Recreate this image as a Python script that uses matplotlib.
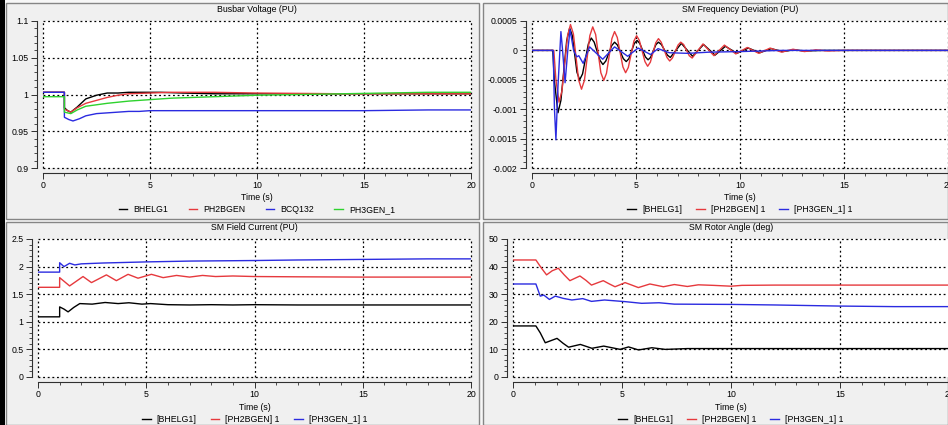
import matplotlib.pyplot as plt
from matplotlib.patches import Rectangle
from matplotlib.ticker import MultipleLocator, FormatStrFormatter

plt.rcParams['font.family'] = ['Liberation Sans', 'DejaVu Sans']
FS = 6.3

BLACK = '#000000'
RED = '#e6393d'
BLUE = '#2b2be0'
GREEN = '#2ed22e'

# ---- Busbar Voltage (PU)
t_v_bhelg1 = [0, 1.0, 1.0, 1.15, 1.3, 1.6, 2.0, 2.5, 3.0, 3.5, 4.0, 5.0, 5.5, 6.5, 8, 10, 14, 20]
v_bhelg1 = [1.003, 1.003, 0.982, 0.978, 0.976, 0.983, 0.994, 0.999, 1.002, 1.002, 1.003,
            1.003, 1.003, 1.002, 1.001, 1.001, 1.001, 1.001]
t_v_ph2bgen = [0, 1.0, 1.0, 1.3, 1.6, 2.0, 2.5, 3.0, 3.5, 4.0, 5.0, 6.0, 8.0, 10, 14, 20]
v_ph2bgen = [1.003, 1.003, 0.980, 0.976, 0.982, 0.988, 0.992, 0.996, 0.999, 1.001, 1.002,
             1.003, 1.003, 1.002, 1.001, 1.001]
t_v_bcq132 = [0, 1.0, 1.0, 1.2, 1.4, 1.7, 2.0, 2.5, 3.0, 3.5, 4.0, 4.5, 5.0, 6.0, 8, 10, 15, 18, 20]
v_bcq132 = [1.003, 1.003, 0.969, 0.966, 0.964, 0.967, 0.971, 0.974, 0.975, 0.976, 0.977,
            0.977, 0.978, 0.978, 0.978, 0.978, 0.978, 0.979, 0.979]
t_v_ph3gen = [0, 1.0, 1.0, 1.3, 1.6, 2.0, 2.5, 3.0, 4.0, 5.0, 6.0, 7.0, 8.0, 10, 12, 14, 16, 18, 20]
v_ph3gen = [0.997, 0.997, 0.976, 0.974, 0.979, 0.984, 0.986, 0.988, 0.991, 0.993, 0.995,
            0.996, 0.997, 0.999, 1.000, 1.001, 1.002, 1.003, 1.003]

# ---- SM Frequency Deviation (PU)
t_f_bhelg1 = [0, 1.0, 1.07, 1.25, 1.39, 1.67, 1.81, 1.94, 2.16, 2.29, 2.43, 2.71, 2.85,
              2.99, 3.27, 3.41, 3.55, 3.83, 3.97, 4.11, 4.39, 4.53, 4.66, 4.92, 5.05, 5.18,
              5.45, 5.58, 5.7, 5.96, 6.08, 6.22, 6.51, 6.65, 7.18, 7.72, 8.25, 8.8, 9.3,
              9.85, 10.4, 10.95, 11.5, 12.05, 12.6, 13.1, 14, 20]
f_bhelg1 = [0, 0, -0.0005, -0.00106, -0.00085, 0.00017, 0.00038, 0.00025, -0.00037,
            -0.0005, -0.0004, 0.00011, 0.00021, 0.00014, -0.00017, -0.00024, -0.00018,
            0.00008, 0.00014, 0.00009, -0.00014, -0.00019, -0.00014, 0.00012, 0.00017,
            0.00012, -0.00011, -0.00016, -0.00012, 0.0001, 0.00014, 0.0001, -0.00008,
            -0.00012, 0.00012, -0.0001, 0.0001, -0.00008, 0.00007, -0.00005, 0.00004,
            -0.00004, 0.00003, -0.00002, 0.00001, -0.00001, 0, 0]
t_f_ph2bgen = [0, 1.05, 1.15, 1.3, 1.44, 1.71, 1.85, 1.99, 2.24, 2.38, 2.52, 2.78, 2.92,
               3.06, 3.31, 3.45, 3.58, 3.84, 3.97, 4.1, 4.37, 4.5, 4.63, 4.9, 5.03, 5.16,
               5.43, 5.56, 5.69, 5.95, 6.08, 6.21, 6.49, 6.62, 6.75, 7.02, 7.15, 7.29,
               7.56, 7.7, 8.22, 8.75, 9.25, 9.8, 10.35, 10.9, 11.45, 12.0, 12.55, 13.1,
               13.65, 14.2, 15, 20]
f_ph2bgen = [0, 0, -0.0005, -0.00088, -0.00069, 0.00025, 0.00044, 0.00028, -0.0005,
             -0.00066, -0.00051, 0.00025, 0.0004, 0.00027, -0.00038, -0.00051, -0.00039,
             0.0002, 0.00032, 0.00022, -0.00028, -0.00038, -0.00029, 0.00016, 0.00025,
             0.00017, -0.00019, -0.00027, -0.0002, 0.00013, 0.0002, 0.00014, -0.00012,
             -0.00018, -0.00013, 0.00009, 0.00014, 0.0001, -0.00009, -0.00013, 0.00011,
             -0.00009, 0.00009, -0.00006, 0.00005, -0.00005, 0.00004, -0.00003, 0.00002,
             -0.00002, 0.00001, -0.00001, 0, 0]
t_f_ph3gen = [0, 1.02, 1.08, 1.15, 1.25, 1.39, 1.47, 1.59, 1.72, 1.83, 2.0, 2.15, 2.25,
              2.46, 2.77, 3.4, 3.97, 4.6, 5.1, 5.7, 6.06, 6.6, 7.5, 8.5, 10, 12, 20]
f_ph3gen = [0, 0, -0.001, -0.00152, -0.0006, 0.00032, 0.0, -0.00055, 0.0, 0.00035, 0.0,
            -0.00011, -0.00009, -0.00022, 0.00006, -0.00015, 0.00006, -0.0001, 0.00004,
            -0.00007, 0.00003, -0.00004, -0.00005, -0.00003, -0.00002, 0, 0]

# ---- SM Field Current (PU)
t_i_bhelg1 = [0, 1.0, 1.0, 1.2, 1.39, 1.65, 1.93, 2.5, 3.1, 3.7, 4.2, 4.8, 5.2, 6, 7, 8,
              9, 10, 12, 14, 20]
i_bhelg1 = [1.09, 1.09, 1.27, 1.23, 1.18, 1.26, 1.33, 1.32, 1.35, 1.33, 1.345, 1.32, 1.33,
            1.31, 1.305, 1.31, 1.305, 1.31, 1.305, 1.305, 1.305]
t_i_ph2bgen = [0, 1.0, 1.0, 1.46, 2.08, 2.47, 3.16, 3.62, 4.16, 4.62, 5.24, 5.78, 6.4, 7,
               7.6, 8.2, 9, 10, 12, 15, 20]
i_ph2bgen = [1.625, 1.625, 1.80, 1.65, 1.82, 1.71, 1.85, 1.745, 1.86, 1.79, 1.86, 1.80,
             1.84, 1.81, 1.84, 1.82, 1.83, 1.82, 1.815, 1.81, 1.81]
t_i_ph3gen = [0, 1.0, 1.0, 1.2, 1.46, 1.7, 2.0, 3, 4, 5, 7, 10, 12, 15, 18, 20]
i_ph3gen = [1.9, 1.9, 2.07, 2.0, 2.06, 2.03, 2.05, 2.065, 2.075, 2.085, 2.1, 2.11, 2.12,
            2.13, 2.14, 2.14]

# ---- SM Rotor Angle (deg)
t_a_bhelg1 = [0, 1.05, 1.25, 1.48, 1.75, 2.02, 2.3, 2.55, 3.09, 3.62, 4.16, 4.92, 5.3,
              5.76, 6.37, 6.99, 8, 10, 15, 20]
a_bhelg1 = [18.5, 18.5, 16.0, 12.4, 13.2, 14.0, 12.2, 10.8, 11.8, 10.4, 11.2, 10.0, 10.9,
            9.8, 10.6, 10.0, 10.3, 10.3, 10.3, 10.3]
t_a_ph2bgen = [0, 1.05, 1.3, 1.54, 1.8, 2.08, 2.35, 2.61, 2.85, 3.07, 3.35, 3.6, 3.9,
               4.14, 4.4, 4.68, 4.9, 5.14, 5.45, 5.75, 6.28, 6.9, 7.4, 8.0, 8.5, 9.2, 10,
               10.5, 12, 15, 20]
a_ph2bgen = [42.4, 42.4, 39.5, 37.0, 38.5, 39.4, 37.0, 34.9, 35.8, 36.6, 35.0, 33.3, 34.2,
             34.9, 33.8, 32.7, 33.4, 34.2, 33.3, 32.4, 33.7, 32.7, 33.5, 32.8, 33.4, 33.2,
             32.9, 33.2, 33.3, 33.3, 33.3]
t_a_ph3gen = [0, 1.05, 1.25, 1.41, 1.67, 1.94, 2.3, 2.7, 3.2, 3.6, 4.2, 5.15, 5.9, 6.7,
              7.4, 10, 12, 15, 17.5, 20]
a_ph3gen = [33.7, 33.7, 29.3, 29.7, 28.1, 29.3, 28.5, 27.9, 28.4, 27.4, 27.9, 27.3, 26.7,
            26.9, 26.4, 26.3, 26.1, 25.7, 25.5, 25.5]

W, H = 948, 425
fig = plt.figure(figsize=(W / 100, H / 100), dpi=100)
fig.patch.set_facecolor('#f7f7f7')


def box(x0, y0, x1, y1, **kw):
    # rectangle in pixel coords (origin top-left), kept behind the axes
    fig.add_artist(Rectangle((x0 / W, 1 - y1 / H), (x1 - x0) / W, (y1 - y0) / H,
                             transform=fig.transFigure, zorder=-10, **kw))


box(0, 0, 5, H, fc='black', ec='none')
for bx in [(6, 3, 479, 219), (483, 3, 948, 219), (6, 222, 479, 425), (483, 222, 948, 425)]:
    box(*bx, fc='#f0f0f0', ec='#858585', lw=1)


def panel(px, title, ylim, ymaj, ymin, fmt, time_y, leg_y):
    x0, y0, x1, y1 = px
    hp = y1 - y0
    ax = fig.add_axes([x0 / W, 1 - y1 / H, (x1 - x0) / W, hp / H])
    ax.set_facecolor('white')
    ax.set_xlim(0, 20)
    ax.set_ylim(*ylim)
    ax.xaxis.set_major_locator(MultipleLocator(5))
    ax.xaxis.set_minor_locator(MultipleLocator(1))
    ax.yaxis.set_major_locator(MultipleLocator(ymaj))
    ax.yaxis.set_minor_locator(MultipleLocator(ymin))
    ax.yaxis.set_major_formatter(FormatStrFormatter(fmt))
    ax.xaxis.set_major_formatter(FormatStrFormatter('%g'))
    for s in ['top', 'right']:
        ax.spines[s].set_visible(False)
    ax.spines['left'].set_position(('outward', 4.5))
    ax.spines['bottom'].set_position(('outward', 3.6))
    for s in ['left', 'bottom']:
        ax.spines[s].set_color('#303030')
        ax.spines[s].set_linewidth(0.8)
    ax.tick_params(which='major', direction='out', length=4, width=0.7,
                   labelsize=FS, pad=2, color='#303030')
    ax.tick_params(which='minor', direction='out', length=2.5, width=0.6, color='#303030')
    ax.grid(True, which='major', color='black', linestyle=(0, (1.5, 2.2)), linewidth=0.9)
    for gl in ax.get_xgridlines() + ax.get_ygridlines():
        gl.set_clip_on(False)
    ax.text(0.5, 1 + 11 / hp, title, transform=ax.transAxes, ha='center', va='center',
            fontsize=FS)
    ax.text(0.5, -(time_y - y1) / hp, 'Time (s)', transform=ax.transAxes, ha='center',
            va='center', fontsize=FS)
    ax._leg_y = -(leg_y - y1) / hp
    return ax


def legend(ax, spacing):
    ax.legend(loc='center', bbox_to_anchor=(0.5, ax._leg_y), ncol=4, frameon=False,
              handlelength=1.0, handletextpad=0.7, columnspacing=spacing, fontsize=FS,
              borderaxespad=0, borderpad=0)


lw = 1.0

ax1 = panel((43, 21, 471, 168), 'Busbar Voltage (PU)', (0.9, 1.1), 0.05, 0.01, '%g', 198, 210)
ax1.plot(t_v_bhelg1, v_bhelg1, color=BLACK, lw=lw, label='BHELG1')
ax1.plot(t_v_ph2bgen, v_ph2bgen, color=RED, lw=lw, label='PH2BGEN')
ax1.plot(t_v_bcq132, v_bcq132, color=BLUE, lw=lw, label='BCQ132')
ax1.plot(t_v_ph3gen, v_ph3gen, color=GREEN, lw=lw, label='PH3GEN_1')
legend(ax1, 2.3)

ax2 = panel((532, 21, 948, 168), 'SM Frequency Deviation (PU)', (-0.002, 0.0005), 0.0005,
            0.0001, '%g', 198, 210)
ax2.plot(t_f_bhelg1, f_bhelg1, color=BLACK, lw=lw, label='[BHELG1]')
ax2.plot(t_f_ph2bgen, f_ph2bgen, color=RED, lw=lw, label='[PH2BGEN] 1')
ax2.plot(t_f_ph3gen, f_ph3gen, color=BLUE, lw=lw, label='[PH3GEN_1] 1')
legend(ax2, 1.6)

ax3 = panel((38, 239, 471, 377), 'SM Field Current (PU)', (0, 2.5), 0.5, 0.1, '%g', 408, 420)
ax3.plot(t_i_bhelg1, i_bhelg1, color=BLACK, lw=lw, label='[BHELG1]')
ax3.plot(t_i_ph2bgen, i_ph2bgen, color=RED, lw=lw, label='[PH2BGEN] 1')
ax3.plot(t_i_ph3gen, i_ph3gen, color=BLUE, lw=lw, label='[PH3GEN_1] 1')
legend(ax3, 1.6)

ax4 = panel((513, 239, 949, 377), 'SM Rotor Angle (deg)', (0, 50), 10, 2, '%g', 408, 420)
ax4.plot(t_a_bhelg1, a_bhelg1, color=BLACK, lw=lw, label='[BHELG1]')
ax4.plot(t_a_ph2bgen, a_ph2bgen, color=RED, lw=lw, label='[PH2BGEN] 1')
ax4.plot(t_a_ph3gen, a_ph3gen, color=BLUE, lw=lw, label='[PH3GEN_1] 1')
legend(ax4, 1.6)

fig.savefig('out.png', dpi=100, facecolor=fig.get_facecolor())
